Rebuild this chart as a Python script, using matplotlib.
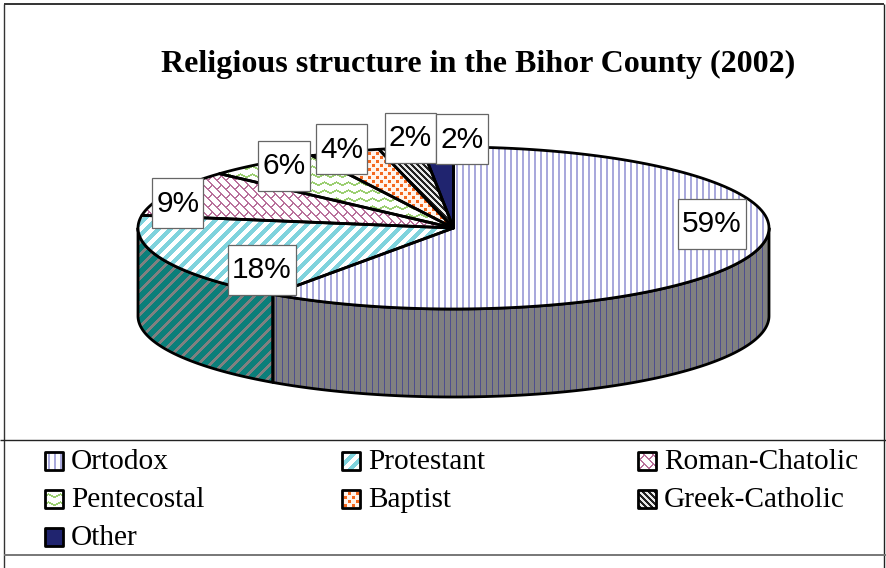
import numpy as np
import matplotlib
matplotlib.use("Agg")
import matplotlib.pyplot as plt
from matplotlib.patches import Polygon, Rectangle

# ---- data ----
categories = ["Ortodox", "Protestant", "Roman-Chatolic", "Pentecostal",
              "Baptist", "Greek-Catholic", "Other"]
shares = [59.7, 17.8, 9.2, 5.9, 3.6, 2.2, 1.6]
share_labels = ["59%", "18%", "9%", "6%", "4%", "2%", "2%"]
title = "Religious structure in the Bihor County (2002)"

# ---- layout (pixels) ----
W, H = 886, 568
CX, CY, RX, RY, DEPTH = 453.5, 228, 315.5, 81, 88
LABEL_BOXES = [(678, 199, 68, 50), (228, 245, 68, 50), (152.5, 178, 51, 50),
               (258, 141, 52, 50), (316, 124, 51, 50), (385, 113, 51, 50),
               (436, 114, 52, 50)]
LEG_X = [45, 342, 638]
LEG_Y = [461, 499, 537]

fig = plt.figure(figsize=(W / 100, H / 100), dpi=100)
ax = fig.add_axes([0, 0, 1, 1])
ax.set_xlim(0, W)
ax.set_ylim(H, 0)
ax.axis("off")

yy, xx = np.mgrid[0:H, 0:W]


def rgb(c):
    return np.array(matplotlib.colors.to_rgb(c))


def two_colour(mask, fg, bg):
    img = np.empty((H, W, 3))
    img[:] = rgb(bg)
    img[mask] = rgb(fg)
    return img


def vertical(fg, bg, width=2):
    return two_colour(xx % 6 < width, fg, bg)


def diagonal(fg, bg, width=6):
    return two_colour((xx + yy) % 12 < width, fg, bg)


def brick(fg, bg):
    u, v = xx + yy, xx - yy
    rows = (v // 9)
    joint = ((u + (rows % 2) * 9) % 18) < 1.5
    return two_colour((v % 9 < 1.5) | joint, fg, bg)


def zigzag(fg, bg):
    tri = np.abs((xx % 12) - 6) / 2
    return two_colour(((yy + tri) % 8) < 2, fg, bg)


def dots(fg, bg):
    a = (xx % 8 < 3) & (yy % 8 < 3)
    b = ((xx + 4) % 8 < 3) & ((yy + 4) % 8 < 3)
    return two_colour(a | b, fg, bg)


def back_diag(fg, bg):
    return two_colour((xx - yy) % 6 < 3, fg, bg)


top_fill = [
    vertical("#a9a9dc", "white"),
    diagonal("#7fd3dd", "white"),
    brick("#b9719b", "white"),
    zigzag("#9ccf72", "white"),
    dots("#f4691f", "#fff4ec"),
    back_diag("#222222", "#e8e8e8"),
    two_colour(np.zeros((H, W), bool), "white", "#20246f"),
]
wall_fill = {
    0: vertical("#4e4e8e", "#808080", width=1),
    1: diagonal("#0b7f7a", "#808080", width=8),
}

# clockwise angle from 12 o'clock for each slice boundary
bounds = np.concatenate([[0], np.cumsum(shares) / np.sum(shares) * 360])


def rim(a0, a1, dy=0.0, n=120):
    t = np.radians(np.linspace(a0, a1, n))
    return np.column_stack([CX + RX * np.sin(t), CY + dy - RY * np.cos(t)])


def paint(points, texture, z):
    patch = Polygon(points, closed=True, facecolor="none", edgecolor="none", zorder=z)
    ax.add_patch(patch)
    im = ax.imshow(texture, extent=(0, W, H, 0), interpolation="nearest",
                   zorder=z, aspect="auto")
    im.set_clip_path(patch)
    ax.add_patch(Polygon(points, closed=True, facecolor="none", edgecolor="black",
                         linewidth=2.0, joinstyle="round", zorder=z + 0.1))


# side wall: only the part of each slice on the front half of the ellipse
for i in range(len(shares)):
    a0, a1 = max(bounds[i], 90), min(bounds[i + 1], 270)
    if a1 > a0:
        pts = np.vstack([rim(a0, a1), rim(a1, a0, DEPTH)])
        paint(pts, wall_fill[i], 2)

# top surface
for i in range(len(shares)):
    pts = np.vstack([[[CX, CY]], rim(bounds[i], bounds[i + 1])])
    paint(pts, top_fill[i], 3)

ax.set_xlim(0, W)
ax.set_ylim(H, 0)

# value labels
for text, (x, y, w, h) in zip(share_labels, LABEL_BOXES):
    ax.add_patch(Rectangle((x, y), w, h, facecolor="white", edgecolor="#666666",
                           linewidth=0.9, zorder=5))
    ax.text(x + w / 2, y + h / 2 + 0.5, text, ha="center", va="center", fontsize=21.5,
            family="Liberation Sans", color="black", zorder=6)

# title
ax.text(478, 64.5, title, ha="center", va="center", fontsize=23,
        family="Liberation Serif", fontweight="bold", color="black", zorder=6)

# legend
for i, name in enumerate(categories):
    col, row = i % 3, i // 3
    x, y = LEG_X[col], LEG_Y[row]
    pts = [(x, y - 9), (x + 18, y - 9), (x + 18, y + 9), (x, y + 9)]
    paint(pts, top_fill[i], 7)
    ax.text(x + 26, y + 1, name, ha="left", va="center", fontsize=21.2,
            family="Liberation Serif", color="black", zorder=8)

# page frame
for xs, ys, c, lw in [((4.5, 4.5), (4, 568), "#333333", 1.0),
                      ((884, 884), (4, 568), "#222222", 1.0),
                      ((4.5, 884), (4, 4), "#333333", 1.4),
                      ((0, 886), (440, 440), "#222222", 1.0),
                      ((4.5, 886), (555, 555), "#777777", 1.4)]:
    ax.plot(xs, ys, color=c, linewidth=lw, zorder=9, solid_capstyle="butt")

fig.savefig("out.png", dpi=100, facecolor="white")
